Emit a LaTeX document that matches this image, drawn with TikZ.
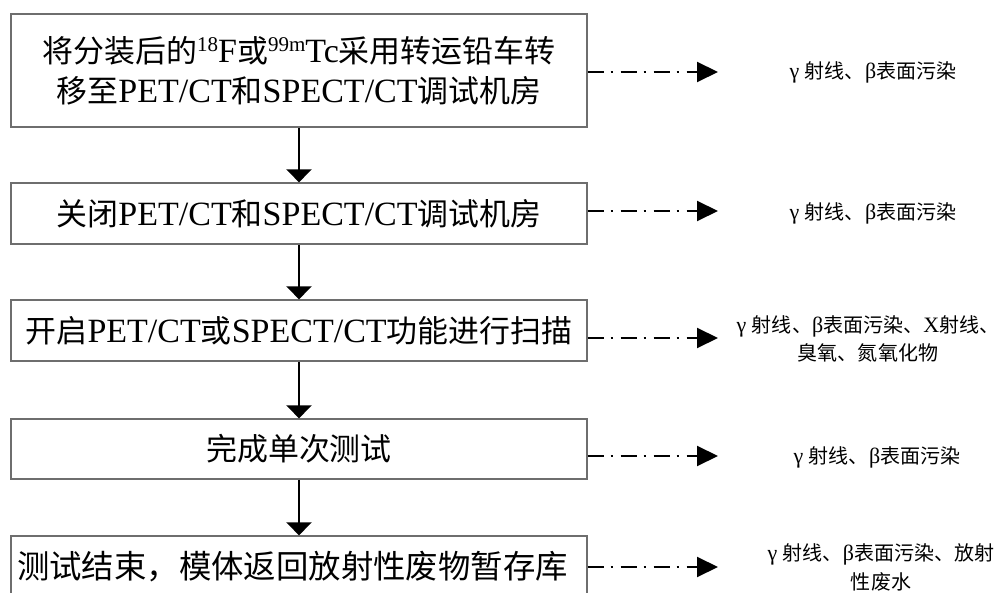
\documentclass[tikz,border=0pt]{standalone}
\usepackage{fontspec}
\setmainfont{Liberation Serif}
\newfontfamily\cjk{Noto Sans CJK SC}[Scale=0.91]
\newcommand{\ZH}[1]{{\cjk #1}}
\newcommand{\SUP}[1]{\raisebox{10.5pt}{\fontsize{21}{21}\selectfont #1}}
\usetikzlibrary{arrows.meta}
\definecolor{boxgray}{RGB}{110,110,110}
\tikzset{
  procbox/.style={draw=boxgray, line width=1.3pt, rectangle, minimum width=576pt,
    inner sep=0pt, align=center, font=\fontsize{34}{40}\selectfont},
  downarrow/.style={line width=2.5pt, -{Triangle[width=25pt,length=13pt]}},
  sidearrow/.style={line width=2pt, dash pattern=on 16pt off 7pt on 2pt off 8pt,
    -{Triangle[width=20pt,length=21pt]}},
  lbl/.style={align=center, inner sep=0pt, font=\fontsize{22}{28.5}\selectfont}
}
\begin{document}
\begin{tikzpicture}[x=1pt,y=-1pt]
\useasboundingbox (0,0) rectangle (1001,593);
\clip (0,0) rectangle (1001,593);
\fill[white] (0,0) rectangle (1001,593);

\node[procbox, minimum height=113pt] (b1) at (299,70.5)
  {\ZH{将分装后的}\SUP{18}F\ZH{或}\SUP{99m}Tc\ZH{采用转运铅车转}\\
   \ZH{移至}PET/CT\ZH{和}SPECT/CT\ZH{调试机房}};
\node[procbox, minimum height=61pt] (b2) at (299,213.5)
  {\ZH{关闭}PET/CT\ZH{和}SPECT/CT\ZH{调试机房}};
\node[procbox, minimum height=61pt] (b3) at (299,330.5)
  {\ZH{开启}PET/CT\ZH{或}SPECT/CT\ZH{功能进行扫描}};
\node[procbox, minimum height=60pt] (b4) at (299,449)
  {\ZH{完成单次测试}};
\node[procbox, minimum height=61pt, font=\fontsize{35.6}{40}\selectfont] (b5) at (299,566.5)
  {\ZH{测试结束，模体返回放射性废物暂存库}\hspace*{13pt}};

\draw[downarrow] (b1.south) -- (b2.north);
\draw[downarrow] (b2.south) -- (b3.north);
\draw[downarrow] (b3.south) -- (b4.north);
\draw[downarrow] (b4.south) -- (b5.north);

\coordinate (t1) at (718,72);
\coordinate (t2) at (718,211);
\coordinate (t3) at (718,338);
\coordinate (t4) at (718,456);
\coordinate (t5) at (718,567);

\draw[sidearrow] (b1.east |- t1) -- (t1);
\draw[sidearrow] (b2.east |- t2) -- (t2);
\draw[sidearrow] (b3.east |- t3) -- (t3);
\draw[sidearrow] (b4.east |- t4) -- (t4);
\draw[sidearrow] (b5.east |- t5) -- (t5);

\node[lbl] (l1) at (873,72) {γ \ZH{射线、}β\ZH{表面污染}};
\node[lbl] (l2) at (873,213) {γ \ZH{射线、}β\ZH{表面污染}};
\node[lbl] (l3) at (868,339) {γ \ZH{射线、}β\ZH{表面污染、}X\ZH{射线、}\\ \ZH{臭氧、氮氧化物}};
\node[lbl] (l4) at (877,457) {γ \ZH{射线、}β\ZH{表面污染}};
\node[lbl] (l5) at (881,567.5) {γ \ZH{射线、}β\ZH{表面污染、放射}\\ \ZH{性废水}};
\end{tikzpicture}
\end{document}
